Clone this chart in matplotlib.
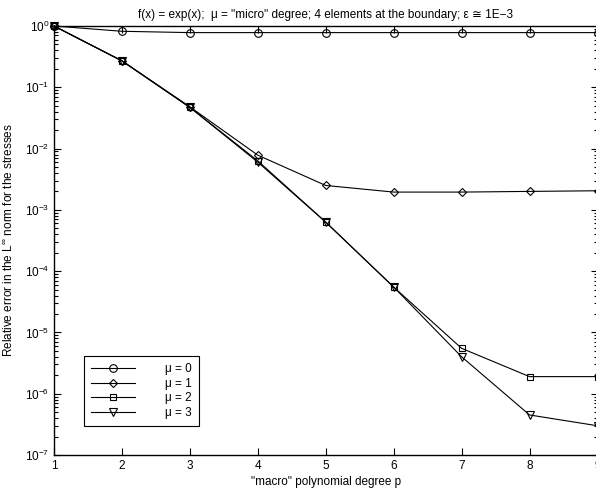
import matplotlib
matplotlib.use("Agg")
import matplotlib.pyplot as plt
from matplotlib.ticker import LogLocator, NullFormatter

plt.rcParams['font.family'] = ['Liberation Sans', 'DejaVu Sans']
plt.rcParams['mathtext.fontset'] = 'custom'
plt.rcParams['mathtext.rm'] = 'Liberation Sans'
plt.rcParams['mathtext.it'] = 'Liberation Sans'

p = [1, 2, 3, 4, 5, 6, 7, 8, 9]
mu0 = [1.0, 0.82, 0.78, 0.78, 0.78, 0.78, 0.78, 0.78, 0.78]
mu1 = [1.0, 0.27, 0.048, 7.8e-3, 2.5e-3, 1.95e-3, 1.95e-3, 2.0e-3, 2.05e-3]
mu2 = [1.0, 0.27, 0.047, 6.3e-3, 6.3e-4, 5.5e-5, 5.5e-6, 1.9e-6, 1.9e-6]
mu3 = [1.0, 0.27, 0.047, 6.0e-3, 6.3e-4, 5.5e-5, 4.0e-6, 4.5e-7, 3.0e-7]
labels = ["\u03bc = 0", "\u03bc = 1", "\u03bc = 2", "\u03bc = 3"]
series = [mu0, mu1, mu2, mu3]
markers = ['o', 'D', 's', 'v']
msizes = [5.5, 4.3, 4.3, 5.5]
xticks = [1, 2, 3, 4, 5, 6, 7, 8, 9]

fig = plt.figure(figsize=(5.96, 4.90), dpi=100)
ax = fig.add_axes([54/596, 1-455/490, (597.5-54)/596, (455-26)/490])

handles = []
for y, m, ms, lab in zip(series, markers, msizes, labels):
    h, = ax.semilogy(p, y, color='black', lw=0.8, marker=m, ms=ms,
                     mfc='none', mec='black', mew=0.8, label=lab, clip_on=False)
    handles.append(h)

ax.set_xlim(1, 9)
ax.set_ylim(1e-7, 1)
ax.set_xticks(xticks)
ax.set_xticklabels([str(v) for v in xticks])
ax.yaxis.set_major_locator(LogLocator(base=10, numticks=20))
ax.yaxis.set_minor_locator(LogLocator(base=10, subs=range(2, 10), numticks=20))
ax.yaxis.set_minor_formatter(NullFormatter())
ax.tick_params(which='both', direction='in', top=True, right=True, labelsize=8.5, width=0.8)
ax.tick_params(which='major', length=5)
ax.tick_params(which='minor', length=3)
for s in ax.spines.values():
    s.set_linewidth(1.0)

ax.set_title('f(x) = exp(x);  \u03bc = "micro" degree; 4 elements at the boundary; \u03b5 \u2245 1E\u22123',
             fontsize=8.5, pad=6)
ax.set_xlabel('"macro" polynomial degree p', fontsize=8.5, labelpad=3)
ax.set_ylabel(r'Relative error in the L$^{\infty}$ norm for the stresses', fontsize=8.5, labelpad=6)

leg = ax.legend(handles=handles, loc='lower left', bbox_to_anchor=(84/596, 1-426/490),
                bbox_transform=fig.transFigure, fontsize=8.5, frameon=True, fancybox=False,
                edgecolor='black', framealpha=1, handlelength=3.7, handletextpad=2.6,
                labelspacing=0.22, borderpad=0.6, borderaxespad=0)
leg.get_frame().set_linewidth(0.8)

fig.savefig('out.png', dpi=100)
